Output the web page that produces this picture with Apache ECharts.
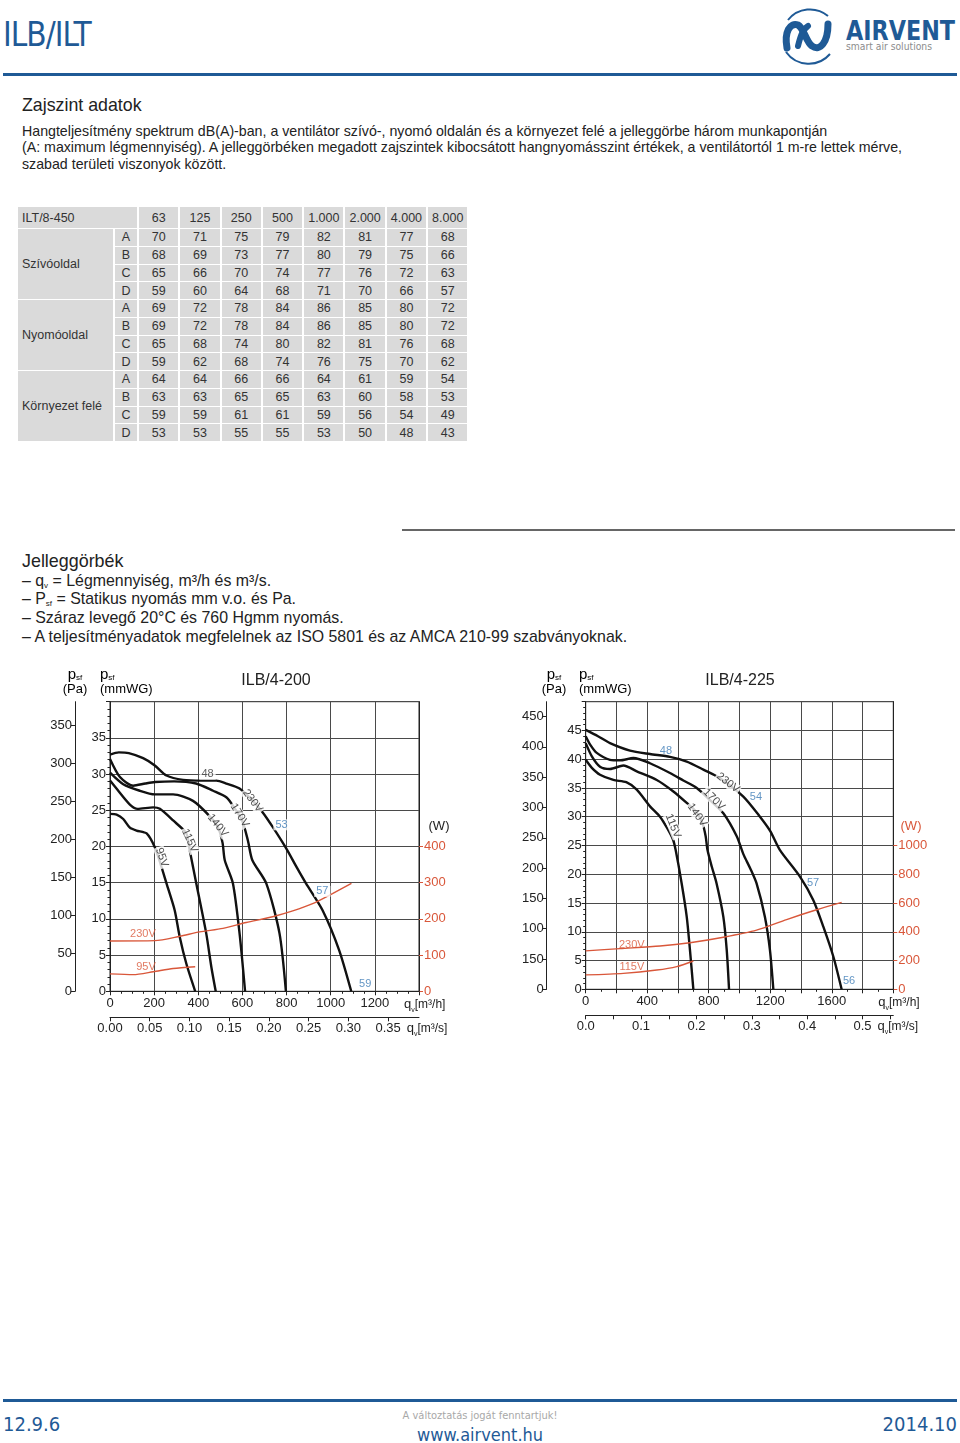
<!DOCTYPE html>
<html><head><meta charset="utf-8">
<script src="https://cdn.jsdelivr.net/npm/echarts@6/dist/echarts.min.js"></script>
<style>
body{margin:0;background:#fff;}
#page{position:relative;width:960px;height:1443px;overflow:hidden;font-family:'Liberation Sans',Arial,sans-serif;color:#222;background:#fff;}
.abs{position:absolute;white-space:nowrap;}
#noise{position:absolute;left:16px;top:206px;border-collapse:separate;border-spacing:2px 1px;table-layout:fixed;font-size:12.5px;color:#333;}
#noise td{background:#dadada;padding:0;text-align:center;height:16.75px;line-height:16px;}
#noise tr.h td{height:21px;}
#noise td.g{text-align:left;padding-left:4px;}
.blue{color:#1f5a96;}
sub{font-size:8px;vertical-align:-2px;line-height:0;}
</style></head><body>
<div id="page">
  <div class="abs blue" style="left:3px;top:15px;font-family:'DejaVu Sans Condensed';font-size:33px;font-weight:200;letter-spacing:-1px;">ILB/ILT</div>
  <svg class="abs" style="left:776px;top:2px" width="184" height="66">
    <path d="M12 18 A28 28 0 0 1 52 14" fill="none" stroke="#1f5a96" stroke-width="2"/>
    <path d="M10 50 A28 28 0 0 0 54 52" fill="none" stroke="#1f5a96" stroke-width="2"/>
    <path d="M11 46 C8 30,14 20,22 23 C28 26,30 40,36 44 C44 50,52 40,52 22" fill="none" stroke="#1f5a96" stroke-width="7" stroke-linecap="round"/>
    <path d="M22 44 C24 36,26 28,32 24" fill="none" stroke="#1f5a96" stroke-width="6" stroke-linecap="round"/>
    <text x="70" y="38" font-family="DejaVu Sans Condensed" font-weight="bold" font-size="27" fill="#1f5a96" textLength="109" lengthAdjust="spacingAndGlyphs">AIRVENT</text>
    <text x="70" y="48" font-family="DejaVu Sans Condensed" font-size="11" fill="#8c8c8c" textLength="86" lengthAdjust="spacingAndGlyphs">smart air solutions</text>
  </svg>
  <div class="abs" style="left:3px;top:73px;width:954px;height:3px;background:#1f5a96;"></div>

  <div class="abs" style="left:22px;top:95px;font-size:17.8px;line-height:20px;">Zajszint adatok</div>
  <div class="abs" style="left:22px;top:122.7px;font-size:14.2px;line-height:16.5px;">Hangteljesítmény spektrum dB(A)-ban, a ventilátor szívó-, nyomó oldalán és a környezet felé a jelleggörbe három munkapontján<br>(A: maximum légmennyiség). A jelleggörbéken megadott zajszintek kibocsátott hangnyomásszint értékek, a ventilátortól 1 m-re lettek mérve,<br>szabad területi viszonyok között.</div>

  <table id="noise"></table>

  <div class="abs" style="left:402px;top:529px;width:553px;height:2px;background:#666;"></div>

  <div class="abs" style="left:22px;top:551px;font-size:17.9px;line-height:20px;">Jelleggörbék</div>
  <div class="abs" style="left:22px;top:571.6px;font-size:15.9px;line-height:18.7px;">– q<sub>v</sub> = Légmennyiség, m³/h és m³/s.<br>– P<sub>sf</sub> = Statikus nyomás mm v.o. és Pa.<br>– Száraz levegő 20°C és 760 Hgmm nyomás.<br>– A teljesítményadatok megfelelnek az ISO 5801 és az AMCA 210-99 szabványoknak.</div>

  <div id="charts" class="abs" style="left:0;top:650px;width:960px;height:400px;"></div>

  <div class="abs" style="left:3px;top:1399px;width:954px;height:3px;background:#1f5a96;"></div>
  <div class="abs blue" style="left:3px;top:1412px;font-family:'DejaVu Sans Condensed';font-size:20px;font-weight:200;">12.9.6</div>
  <div class="abs" style="left:0;top:1409px;width:960px;text-align:center;font-family:'DejaVu Sans Condensed';font-size:11px;color:#a8a8a8;font-weight:200;">A változtatás jogát fenntartjuk!</div>
  <div class="abs blue" style="left:0;top:1424px;width:960px;text-align:center;font-family:'DejaVu Sans Condensed';font-size:18px;font-weight:200;">www.airvent.hu</div>
  <div class="abs blue" style="right:3px;top:1412px;font-family:'DejaVu Sans Condensed';font-size:20px;font-weight:200;">2014.10</div>
</div>
<script>
// ---------- noise table data ----------
const tableTitle = 'ILT/8-450';
const freqs = ['63','125','250','500','1.000','2.000','4.000','8.000'];
const groups = ['Szívóoldal','Nyomóoldal','Környezet felé'];
const letters = ['A','B','C','D'];
const szivo = [[70,71,75,79,82,81,77,68],[68,69,73,77,80,79,75,66],[65,66,70,74,77,76,72,63],[59,60,64,68,71,70,66,57]];
const nyomo = [[69,72,78,84,86,85,80,72],[69,72,78,84,86,85,80,72],[65,68,74,80,82,81,76,68],[59,62,68,74,76,75,70,62]];
const kornyezet = [[64,64,66,66,64,61,59,54],[63,63,65,65,63,60,58,53],[59,59,61,61,59,56,54,49],[53,53,55,55,53,50,48,43]];

// ---------- chart 1 (ILB/4-200) data: [q m3/h, p mmWG] ----------
const c1_230 = [[0,32.7],[40,33.0],[85,32.9],[150,32.2],[203,31.2],[256,29.8],[331,29.2],[420,29.1],[482,29.1],[527,28.7],[587,28.0],[647,26.3],[692,24.7],[737,22.7],[797,19.8],[850,16.9],[888,14.9],[963,11.2],[1038,5.7],[1093,0]];
const c1_170 = [[0,32.1],[45,29.6],[105,28.4],[160,28.7],[203,28.9],[290,29.0],[390,28.7],[467,27.7],[527,26.8],[560,25.5],[600,23.5],[625,20.8],[645,18.1],[708,14.9],[768,8.0],[797,0]];
const c1_140 = [[0,30.2],[60,28.6],[135,27.7],[203,27.2],[286,27.2],[376,26.3],[451,24.2],[490,22.6],[510,20.5],[520,18.1],[557,14.9],[587,8.0],[612,0]];
const c1_115 = [[0,29.1],[40,27.6],[90,25.8],[125,25.2],[196,25.4],[226,25.2],[286,23.6],[346,21.8],[361,19.5],[391,14.9],[436,8.0],[459,3.4],[479,0]];
const c1_95 = [[0,24.5],[30,24.4],[60,23.8],[90,22.6],[120,22.2],[166,21.8],[203,19.9],[230,17.5],[256,14.9],[293,11.2],[316,7.5],[346,3.8],[386,0]];
const c1_w230 = [[0,139],[203,140],[316,152],[406,164],[512,174],[617,190],[737,206],[828,222],[918,242],[1008,270],[1094,298]];
const c1_w95 = [[0,48],[105,46],[196,54],[286,63],[386,68]];
// curve labels: [text, q, p, rotate]
const c1_curveLabels = [['230V',646,26.3,-53],['170V',587,24.3,-58],['140V',488,22.9,-50],['115V',361,20.8,-65],['95V',235,18.5,-70]];
const c1_noiseLabels = [['48',442,30.0,'#333'],['53',777,23.0,'#3b7bb5'],['57',962,13.8,'#3b7bb5'],['59',1156,1.0,'#3b7bb5']];
const c1_powerLabels = [['230V',149,158],['95V',163,66]];
const c1_qh = ['0','200','400','600','800','1000','1200'];
const c1_qs = ['0.00','0.05','0.10','0.15','0.20','0.25','0.30','0.35'];
const c1_mm = ['0','5','10','15','20','25','30','35'];
const c1_pa = ['0','50','100','150','200','250','300','350'];
const c1_w = ['0','100','200','300','400'];

// ---------- chart 2 (ILB/4-225) data ----------
const c2_230 = [[0,45.1],[80,44.0],[158,42.8],[288,41.5],[418,40.9],[548,40.4],[657,39.6],[765,38.2],[873,36.7],[1025,33.5],[1133,30.0],[1200,27.5],[1263,24.2],[1393,19.6],[1480,15.5],[1545,10.9],[1610,5.7],[1664,0]];
const c2_170 = [[0,44.0],[30,42.5],[72,41.1],[158,39.9],[223,39.8],[310,40.2],[418,39.3],[548,37.6],[635,36.3],[722,35.0],[808,32.9],[895,30.6],[982,26.6],[1025,23.5],[1070,21.0],[1111,18.4],[1165,12.6],[1198,6.8],[1220,0]];
const c2_140 = [[0,42.8],[40,40.5],[93,38.7],[158,38.3],[245,38.9],[332,37.9],[462,36.4],[570,34.4],[657,32.4],[720,30.8],[760,28.8],[780,26.6],[792,24.2],[820,21.3],[851,18.4],[895,12.6],[917,6.8],[932,0]];
const c2_115 = [[0,39.9],[40,38.5],[93,37.3],[180,36.4],[264,36.0],[332,34.7],[418,31.8],[483,30.0],[530,28.0],[568,26.0],[585,24.2],[624,18.4],[657,12.6],[678,6.8],[700,0]];
const c2_w230 = [[0,267],[223,283],[483,301],[678,324],[895,362],[1111,411],[1306,485],[1501,553],[1664,604]];
const c2_w115 = [[0,100],[245,111],[462,134],[592,158],[700,197]];
const c2_curveLabels = [['230V',925,35.9,-38],['170V',834,33.0,-45],['140V',724,30.3,-55],['115V',568,28.4,-68]];
const c2_noiseLabels = [['48',522,41.5,'#3b7bb5'],['54',1107,33.5,'#3b7bb5'],['57',1478,18.5,'#3b7bb5'],['56',1712,1.45,'#3b7bb5']];
const c2_powerLabels = [['230V',300,308],['115V',300,155]];
const c2_qh = ['0','400','800','1200','1600'];
const c2_qs = ['0.0','0.1','0.2','0.3','0.4','0.5'];
const c2_mm = ['0','5','10','15','20','25','30','35','40','45'];
const c2_pa = ['0','150','100','150','200','250','300','350','400','450'];
const c2_w = ['0','200','400','600','800','1000'];

// ---------- build table ----------
(function(){
  const t = document.getElementById('noise');
  let html = '<colgroup><col style="width:95px"><col style="width:22px">' + freqs.map(()=>'<col style="width:39.3px">').join('') + '</colgroup>';
  html += '<tr class="h"><td class="g" colspan="2">'+tableTitle+'</td>' + freqs.map(f=>'<td>'+f+'</td>').join('') + '</tr>';
  [szivo, nyomo, kornyezet].forEach((rows, gi) => {
    rows.forEach((r, ri) => {
      html += '<tr>' + (ri===0 ? '<td class="g" rowspan="4">'+groups[gi]+'</td>' : '') + '<td>'+letters[ri]+'</td>' + r.map(v=>'<td>'+v+'</td>').join('') + '</tr>';
    });
  });
  t.innerHTML = html;
})();

// ---------- chart ----------
const RED = '#d9573a', BLACK = '#222', GRIDC = '#4a4a4a';
const FONT = 'Liberation Sans';
const lab = {color:BLACK, fontSize:13, fontFamily:FONT};
const chart = echarts.init(document.getElementById('charts'));
const G1 = {left:110, top:51.7, width:309, height:289.6};
const G2 = {left:585.7, top:51.7, width:307.6, height:287.6};
const rich = {
  q:{fontSize:13, fontFamily:FONT, color:BLACK},
  v:{fontSize:7, fontFamily:FONT, color:BLACK, verticalAlign:'bottom', lineHeight:7, padding:[0,0,-2,0]},
  t:{fontSize:12, fontFamily:FONT, color:BLACK}
};
function qName(unit){ return '{q|q}{v|v}{t|[' + unit + ']}'; }
function lookup(arr, step){ return v => { const i = Math.round(v/step); return Math.abs(i*step - v) < 1e-6 && arr[i]!==undefined ? arr[i] : ''; }; }

function xMain(gi, max, interval, labels, labelStep, minorSplit){
  return {type:'value', gridIndex:gi, min:0, max:max, interval:interval, position:'bottom',
    axisLine:{show:true, onZero:false, lineStyle:{color:BLACK}},
    axisTick:{show:true, length:4, lineStyle:{color:BLACK}},
    minorTick:{show:true, splitNumber:minorSplit, length:2.5, lineStyle:{color:BLACK}},
    splitLine:{show:true, lineStyle:{color:GRIDC, width:1}},
    axisLabel:Object.assign({}, lab, {margin:6, showMaxLabel:false, formatter:lookup(labels, labelStep)}),
    name:qName('m³/h'), nameLocation:'end', nameGap:-15,
    nameTextStyle:{align:'left', verticalAlign:'top', padding:[7,0,0,0], rich:rich}};
}
function xSec(gi, max, labels, labelStep){
  return {type:'value', gridIndex:gi, min:0, max:max, interval:0.05, position:'bottom', offset:26,
    axisLine:{show:true, onZero:false, lineStyle:{color:BLACK}},
    axisTick:{show:true, length:4, lineStyle:{color:BLACK}},
    splitLine:{show:false},
    axisLabel:Object.assign({}, lab, {margin:5, showMaxLabel:false, formatter:lookup(labels, labelStep)}),
    name:qName('m³/s'), nameLocation:'end', nameGap:-17,
    nameTextStyle:{align:'left', verticalAlign:'top', padding:[5,0,0,0], rich:rich}};
}
function yMM(gi, max, labels){
  return {type:'value', gridIndex:gi, min:0, max:max, interval:5, position:'left',
    axisLine:{show:true, onZero:false, lineStyle:{color:BLACK}},
    axisTick:{show:true, length:4, lineStyle:{color:BLACK}},
    minorTick:{show:true, splitNumber:5, length:2.5, lineStyle:{color:BLACK}},
    splitLine:{show:true, lineStyle:{color:GRIDC, width:1}},
    axisLabel:Object.assign({}, lab, {margin:4, showMaxLabel:false, formatter:lookup(labels, 5)})};
}
function yPa(gi, max, offset, labels){
  return {type:'value', gridIndex:gi, min:0, max:max, interval:50, position:'left', offset:offset,
    axisLine:{show:true, onZero:false, lineStyle:{color:BLACK}},
    axisTick:{show:true, length:4, lineStyle:{color:BLACK}, customValues:labels.map((_,i)=>i*50)},
    splitLine:{show:false},
    axisLabel:Object.assign({}, lab, {margin:3, showMaxLabel:false, formatter:lookup(labels, 50)})};
}
function yW(gi, max, step, labels){
  return {type:'value', gridIndex:gi, min:0, max:max, interval:step, position:'right',
    axisLine:{show:true, onZero:false, lineStyle:{color:BLACK}},
    axisTick:{show:true, length:4, lineStyle:{color:RED}, customValues:labels.map((_,i)=>i*step)},
    splitLine:{show:false},
    axisLabel:Object.assign({}, lab, {color:RED, margin:5, showMaxLabel:false, formatter:lookup(labels, step)})};
}
function curve(data, xi, yi, color, width){
  return {type:'line', xAxisIndex:xi, yAxisIndex:yi, data:data, smooth:0.25, showSymbol:false, symbol:'none', silent:true,
    lineStyle:{color:color, width:width}, z:3};
}
function textSeries(xi, yi, items, z){
  return {type:'scatter', xAxisIndex:xi, yAxisIndex:yi, symbolSize:0, silent:true, z:z||5, data:items};
}
function curveLabelItems(arr){
  return arr.map(a=>({value:[a[1],a[2]], label:{show:true, position:'inside', formatter:a[0], rotate:a[3], color:BLACK, fontSize:11, fontFamily:FONT, backgroundColor:'#fff', padding:[0,1]}}));
}
function noiseLabelItems(arr, bg){
  return arr.map(a=>({value:[a[1],a[2]], label:{show:true, position:'inside', formatter:a[0], color:a[3], fontSize:11, fontFamily:FONT, backgroundColor:bg, padding:[0,2]}}));
}
function powerLabelItems(arr){
  return arr.map(a=>({value:[a[1],a[2]], label:{show:true, position:'inside', formatter:a[0], color:RED, fontSize:11, fontFamily:FONT}}));
}
const psfRich = {
  p:{fontSize:15, fontFamily:FONT, color:BLACK, lineHeight:15},
  s:{fontSize:8, fontFamily:FONT, color:BLACK, lineHeight:8, verticalAlign:'bottom'},
  u:{fontSize:13, fontFamily:FONT, color:BLACK, lineHeight:14}
};
function headText(x, y, unit, align){
  return {type:'text', x:x, y:y, silent:true, style:{text:'{p|p}{s|sf}\n{u|(' + unit + ')}', rich:psfRich, align:align, verticalAlign:'top'}};
}

chart.setOption({
  animation:false,
  title:[
    {text:'ILB/4-200', left:271, top:18, textAlign:'center', textStyle:{fontSize:16, fontWeight:'normal', color:BLACK, fontFamily:FONT}},
    {text:'ILB/4-225', left:735, top:18, textAlign:'center', textStyle:{fontSize:16, fontWeight:'normal', color:BLACK, fontFamily:FONT}}
  ],
  grid:[
    Object.assign({show:true, borderColor:BLACK, borderWidth:1, backgroundColor:'transparent'}, G1),
    Object.assign({show:true, borderColor:BLACK, borderWidth:1, backgroundColor:'transparent'}, G2)
  ],
  xAxis:[
    xMain(0, 1400, 200, c1_qh, 200, 4),
    xSec(0, 1400/3600, c1_qs, 0.05),
    xMain(1, 2000, 200, c2_qh, 400, 2),
    xSec(1, 2000/3600, c2_qs, 0.1)
  ],
  yAxis:[
    yMM(0, 40, c1_mm),
    yPa(0, 381.6, 35, c1_pa),
    yW(0, 800, 100, c1_w),
    yMM(1, 50, c2_mm),
    yPa(1, 474.6, 39, c2_pa),
    yW(1, 2000, 200, c2_w)
  ],
  graphic:[
    headText(75, 17, 'Pa', 'center'),
    headText(100, 17, 'mmWG', 'left'),
    headText(554, 17, 'Pa', 'center'),
    headText(579, 17, 'mmWG', 'left'),
    {type:'text', x:439, y:176, silent:true, style:{text:'(W)', font:'13px "Liberation Sans"', fill:BLACK, align:'center', verticalAlign:'middle'}},
    {type:'text', x:911, y:176, silent:true, style:{text:'(W)', font:'13px "Liberation Sans"', fill:RED, align:'center', verticalAlign:'middle'}}
  ],
  series:[
    curve(c1_230,0,0,'#111',2.4), curve(c1_170,0,0,'#111',2.4), curve(c1_140,0,0,'#111',2.4), curve(c1_115,0,0,'#111',2.4), curve(c1_95,0,0,'#111',2.4),
    curve(c1_w230,0,2,RED,1.4), curve(c1_w95,0,2,RED,1.4),
    textSeries(0,0,curveLabelItems(c1_curveLabels)),
    textSeries(0,0,noiseLabelItems(c1_noiseLabels,'#fff')),
    textSeries(0,2,powerLabelItems(c1_powerLabels)),
    curve(c2_230,2,3,'#111',2.4), curve(c2_170,2,3,'#111',2.4), curve(c2_140,2,3,'#111',2.4), curve(c2_115,2,3,'#111',2.4),
    curve(c2_w230,2,5,RED,1.4), curve(c2_w115,2,5,RED,1.4),
    textSeries(2,3,curveLabelItems(c2_curveLabels)),
    textSeries(2,3,noiseLabelItems(c2_noiseLabels,'transparent')),
    textSeries(2,5,powerLabelItems(c2_powerLabels))
  ]
});
</script>
</body></html>
